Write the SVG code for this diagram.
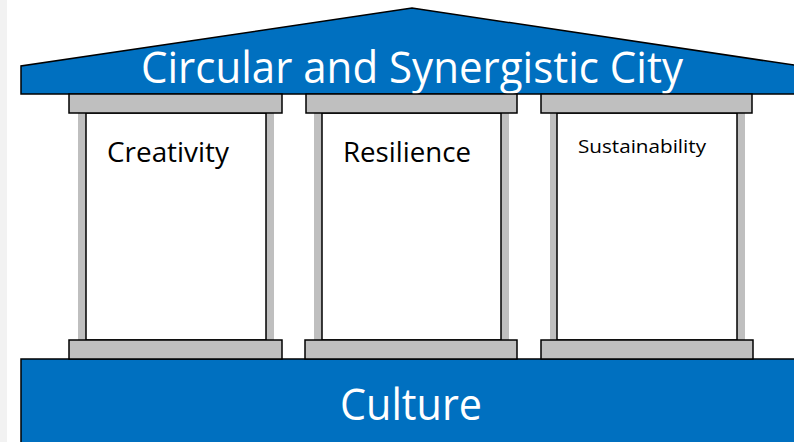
<svg xmlns="http://www.w3.org/2000/svg" width="794" height="442" viewBox="0 0 794 442">
<style>
.blue{fill:#0070C0;stroke:#000;stroke-width:1.5}
.slab{fill:#BFBFBF;stroke:#000;stroke-width:1.5}
.col{fill:#BFBFBF}
.shaft{fill:#FFFFFF;stroke:#000;stroke-width:1.5}
.w{font-family:"Open Sans","Noto Sans",sans-serif;fill:#FFFFFF}
.k{font-family:"Open Sans","Noto Sans",sans-serif;fill:#000000}
</style>
<rect x="0" y="0" width="794" height="442" fill="#FFFFFF"/>
<rect x="0" y="0" width="7" height="442" fill="#F2F2F2"/>
<g id="culture">
<rect class="blue" x="21" y="359" width="780" height="90"/>
<text class="w" x="411" y="420" font-size="44" text-anchor="middle" textLength="142" lengthAdjust="spacingAndGlyphs">Culture</text>
</g>
<g id="roof">
<polygon class="blue" points="21,94 21,66 412,8 800,66 800,94"/>
<text class="w" x="412" y="83" font-size="44" text-anchor="middle" textLength="542" lengthAdjust="spacingAndGlyphs">Circular and Synergistic City</text>
</g>
<g id="pillar-creativity">
<rect class="col" x="78" y="113" width="196" height="227"/>
<rect class="shaft" x="86" y="113" width="180" height="227"/>
<rect class="slab" x="69" y="94" width="213" height="19"/>
<rect class="slab" x="69" y="340" width="213" height="19"/>
<text class="k" x="168" y="162" font-size="28" text-anchor="middle" textLength="122" lengthAdjust="spacingAndGlyphs">Creativity</text>
</g>
<g id="pillar-resilience">
<rect class="col" x="314" y="113" width="195" height="227"/>
<rect class="shaft" x="322" y="113" width="179" height="227"/>
<rect class="slab" x="306" y="94" width="211" height="19"/>
<rect class="slab" x="305" y="340" width="212" height="19"/>
<text class="k" x="407" y="162" font-size="28" text-anchor="middle" textLength="128" lengthAdjust="spacingAndGlyphs">Resilience</text>
</g>
<g id="pillar-sustainability">
<rect class="col" x="550" y="113" width="195" height="227"/>
<rect class="shaft" x="557" y="113" width="180" height="227"/>
<rect class="slab" x="541" y="94" width="211" height="19"/>
<rect class="slab" x="541" y="340" width="212" height="19"/>
<text class="k" x="642" y="153" font-size="18" text-anchor="middle" textLength="128" lengthAdjust="spacingAndGlyphs">Sustainability</text>
</g>
<g id="connectors"></g>
</svg>
